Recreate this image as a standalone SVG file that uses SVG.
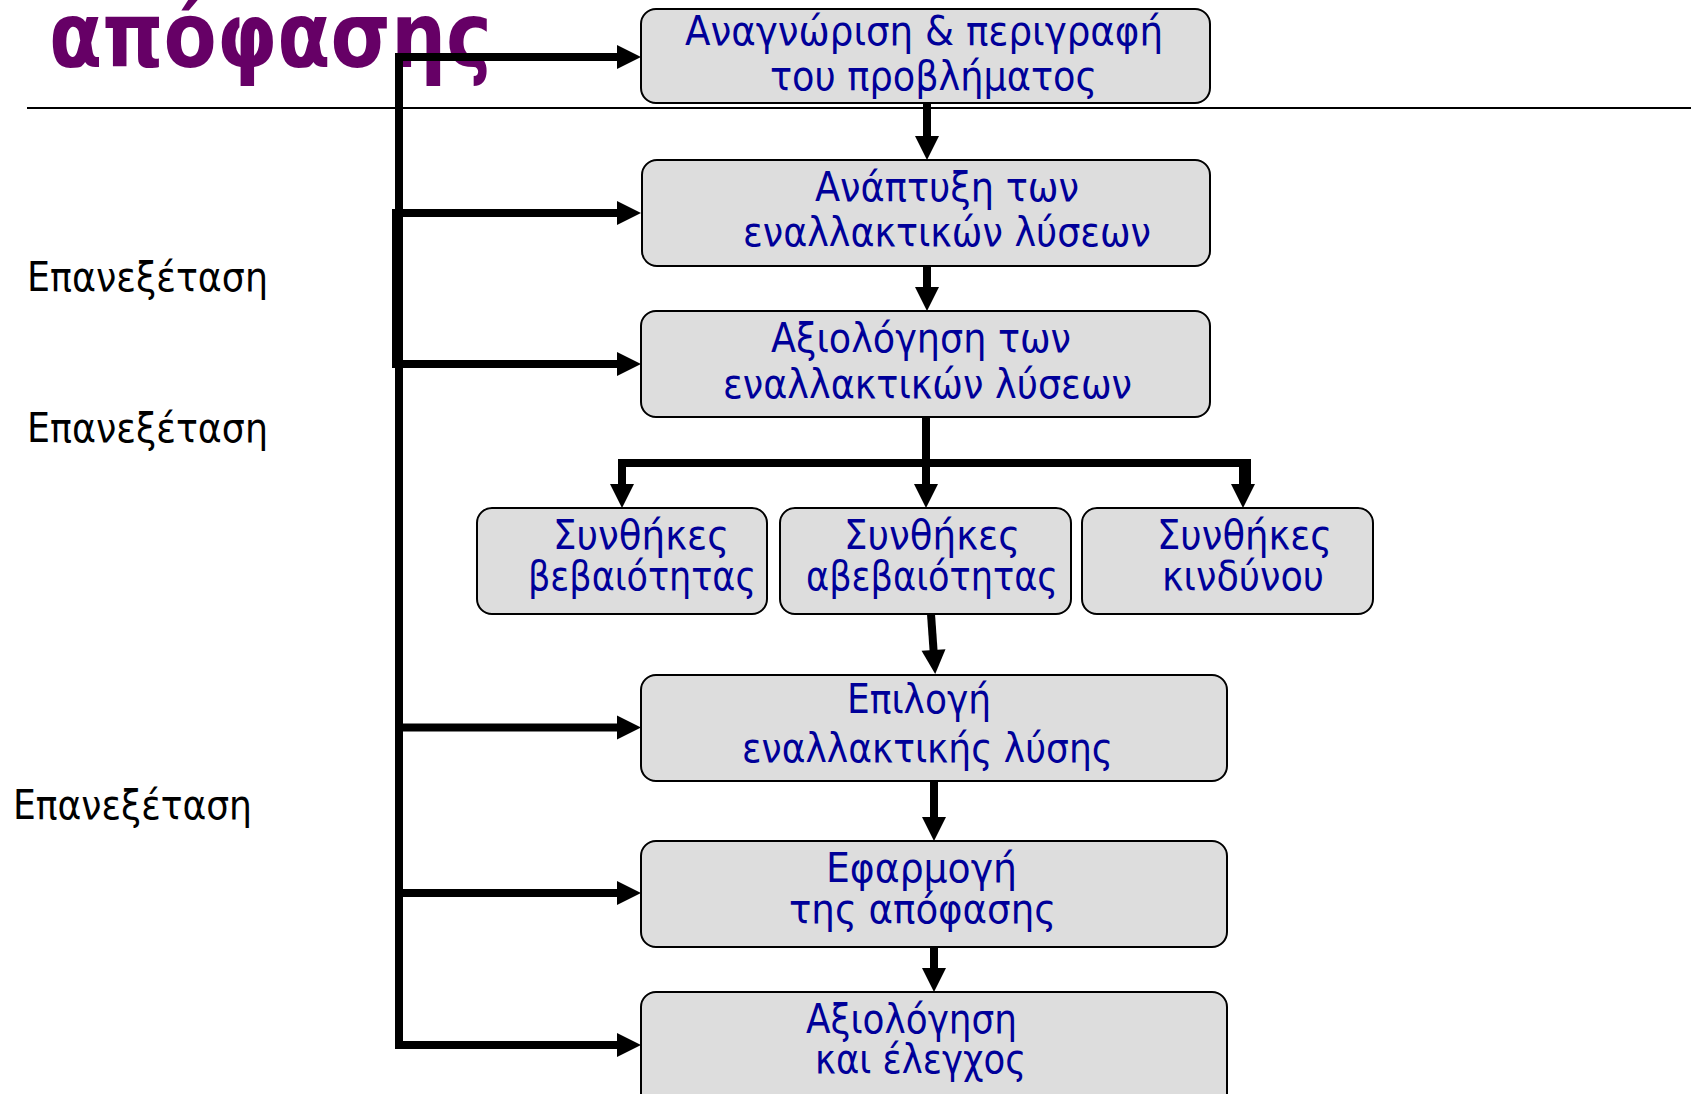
<svg xmlns="http://www.w3.org/2000/svg" width="1696" height="1094" viewBox="0 0 1696 1094">
<style>
.box{fill:#dddddd;stroke:#000;stroke-width:2}
.t{font-family:"DejaVu Sans","Liberation Sans",sans-serif;font-size:41px;fill:#000099}
.lbl{font-family:"DejaVu Sans","Liberation Sans",sans-serif;font-size:41px;fill:#000}
.title{font-family:"DejaVu Sans","Liberation Sans",sans-serif;font-size:90px;font-weight:bold;fill:#660066}
.c{stroke:#000;stroke-width:8;fill:none}
.a{stroke:#000;stroke-width:8;fill:none;marker-end:url(#ah)}
</style>
<defs>
<marker id="ah" markerUnits="userSpaceOnUse" markerWidth="24" markerHeight="24" refX="1" refY="12" orient="auto" overflow="visible">
<path d="M0,0 L24,12 L0,24 Z" fill="#000"/>
</marker>
</defs>
<rect width="1696" height="1094" fill="#fff"/>
<text class="title" x="49" y="67" textLength="443" lengthAdjust="spacingAndGlyphs">απόφασης</text>
<line x1="27" y1="108" x2="1691" y2="108" stroke="#000" stroke-width="2"/>
<text class="lbl" x="27" y="291" textLength="241" lengthAdjust="spacingAndGlyphs">Επανεξέταση</text>
<text class="lbl" x="27" y="442" textLength="241" lengthAdjust="spacingAndGlyphs">Επανεξέταση</text>
<text class="lbl" x="13" y="819" textLength="239" lengthAdjust="spacingAndGlyphs">Επανεξέταση</text>

<g id="connectors">
<line class="c" x1="399" y1="53" x2="399" y2="1049"/>
<line class="c" x1="396" y1="209" x2="396" y2="368"/>
<line class="a" x1="395" y1="57" x2="618" y2="57"/>
<line class="a" x1="395" y1="213" x2="618" y2="213"/>
<line class="a" x1="392" y1="364" x2="618" y2="364"/>
<line class="a" x1="395" y1="727.5" x2="618" y2="727.5"/>
<line class="a" x1="395" y1="893" x2="618" y2="893"/>
<line class="a" x1="395" y1="1045" x2="618" y2="1045"/>
<line class="a" x1="927" y1="103" x2="927" y2="137"/>
<line class="a" x1="927" y1="266" x2="927" y2="288"/>
<line class="c" x1="926" y1="417" x2="926" y2="463"/>
<path class="c" d="M622,485 V463 H1247 V485"/>
<line class="a" x1="622" y1="463" x2="622" y2="485"/>
<line class="a" x1="926" y1="463" x2="926" y2="485"/>
<line class="a" x1="1243" y1="463" x2="1243" y2="485"/>
<line class="a" x1="931" y1="614" x2="933.6" y2="651"/>
<line class="a" x1="934" y1="781" x2="934" y2="818"/>
<line class="a" x1="934" y1="947" x2="934" y2="969"/>
</g>

<g id="n1">
<rect class="box" x="641" y="9" width="569" height="94" rx="15"/>
<text class="t" x="685" y="45" textLength="478" lengthAdjust="spacingAndGlyphs">Αναγνώριση &amp; περιγραφή</text>
<text class="t" x="770" y="90" textLength="327" lengthAdjust="spacingAndGlyphs">του προβλήματος</text>
</g>
<g id="n2">
<rect class="box" x="642" y="160" width="568" height="106" rx="15"/>
<text class="t" x="815" y="201" textLength="264" lengthAdjust="spacingAndGlyphs">Ανάπτυξη των</text>
<text class="t" x="743" y="246" textLength="408" lengthAdjust="spacingAndGlyphs">εναλλακτικών λύσεων</text>
</g>
<g id="n3">
<rect class="box" x="641" y="311" width="569" height="106" rx="15"/>
<text class="t" x="771" y="352" textLength="300" lengthAdjust="spacingAndGlyphs">Αξιολόγηση των</text>
<text class="t" x="723" y="398" textLength="409" lengthAdjust="spacingAndGlyphs">εναλλακτικών λύσεων</text>
</g>
<g id="n4">
<rect class="box" x="477" y="508" width="290" height="106" rx="15"/>
<text class="t" x="553" y="549" textLength="176" lengthAdjust="spacingAndGlyphs">Συνθήκες</text>
<text class="t" x="528" y="590" textLength="228" lengthAdjust="spacingAndGlyphs">βεβαιότητας</text>
</g>
<g id="n5">
<rect class="box" x="780" y="508" width="291" height="106" rx="15"/>
<text class="t" x="844" y="549" textLength="176" lengthAdjust="spacingAndGlyphs">Συνθήκες</text>
<text class="t" x="806" y="590" textLength="252" lengthAdjust="spacingAndGlyphs">αβεβαιότητας</text>
</g>
<g id="n6">
<rect class="box" x="1082" y="508" width="291" height="106" rx="15"/>
<text class="t" x="1157" y="549" textLength="175" lengthAdjust="spacingAndGlyphs">Συνθήκες</text>
<text class="t" x="1162" y="590" textLength="162" lengthAdjust="spacingAndGlyphs">κινδύνου</text>
</g>
<g id="n7">
<rect class="box" x="641" y="675" width="586" height="106" rx="15"/>
<text class="t" x="847" y="713" textLength="144" lengthAdjust="spacingAndGlyphs">Επιλογή</text>
<text class="t" x="742" y="762" textLength="371" lengthAdjust="spacingAndGlyphs">εναλλακτικής λύσης</text>
</g>
<g id="n8">
<rect class="box" x="641" y="841" width="586" height="106" rx="15"/>
<text class="t" x="826" y="882" textLength="191" lengthAdjust="spacingAndGlyphs">Εφαρμογή</text>
<text class="t" x="789" y="923" textLength="267" lengthAdjust="spacingAndGlyphs">της απόφασης</text>
</g>
<g id="n9">
<rect class="box" x="641" y="992" width="586" height="140" rx="15"/>
<text class="t" x="806" y="1033" textLength="211" lengthAdjust="spacingAndGlyphs">Αξιολόγηση</text>
<text class="t" x="815" y="1073" textLength="211" lengthAdjust="spacingAndGlyphs">και έλεγχος</text>
</g>
</svg>
